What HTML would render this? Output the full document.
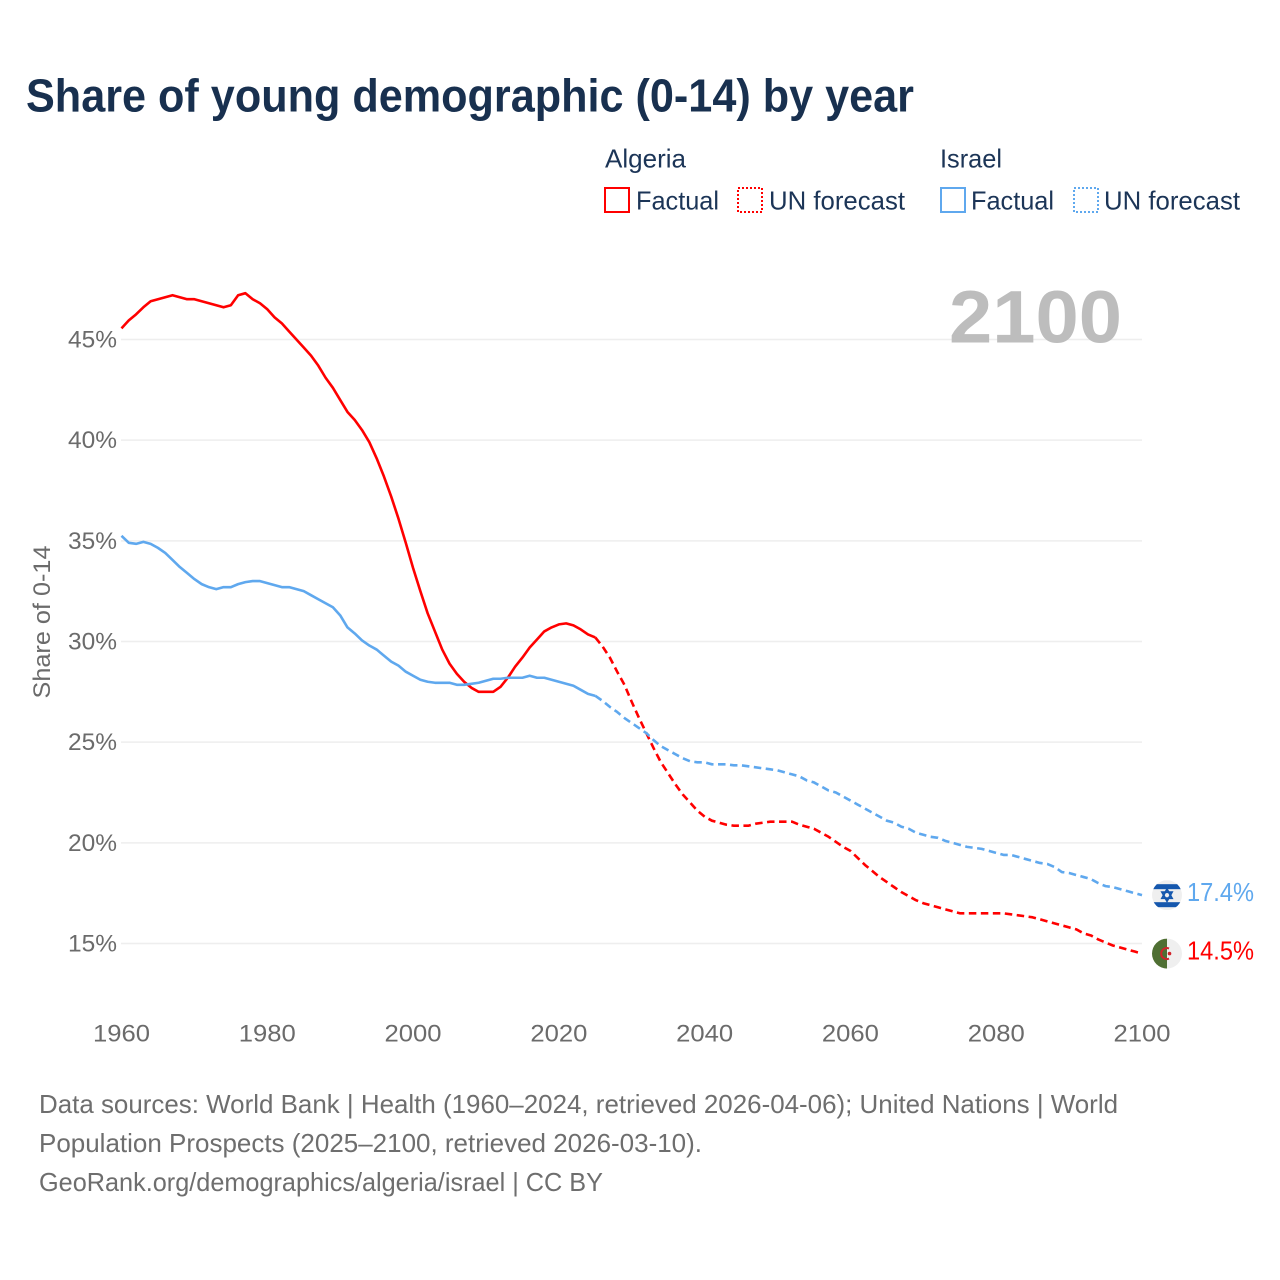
<!DOCTYPE html>
<html lang="en">
<head>
<meta charset="utf-8">
<title>Share of young demographic (0-14) by year</title>
<style>
  html, body { margin: 0; padding: 0; background: #fff; }
  svg { display: block; }
  text { font-family: "Liberation Sans", sans-serif; }
</style>
</head>
<body>
<svg id="chart" xmlns="http://www.w3.org/2000/svg" width="1280" height="1280" viewBox="0 0 1280 1280">
  <rect width="1280" height="1280" fill="#ffffff"/>
  <text x="26" y="111.5" font-size="46" font-weight="700" fill="#18304f" textLength="888" lengthAdjust="spacingAndGlyphs">Share of young demographic (0-14) by year</text>

  <g>
    <text x="605" y="167.5" font-size="26" fill="#1c3557" textLength="81" lengthAdjust="spacingAndGlyphs">Algeria</text>
    <rect x="605" y="188" width="24" height="24" fill="none" stroke="#ff0000" stroke-width="2"/>
    <text x="636" y="209.5" font-size="26" fill="#1c3557" textLength="83" lengthAdjust="spacingAndGlyphs">Factual</text>
    <rect x="738" y="188" width="24" height="24" fill="none" stroke="#ff0000" stroke-width="2" stroke-dasharray="2 2"/>
    <text x="769" y="209.5" font-size="26" fill="#1c3557" textLength="136" lengthAdjust="spacingAndGlyphs">UN forecast</text>

    <text x="940" y="167.5" font-size="26" fill="#1c3557" textLength="62" lengthAdjust="spacingAndGlyphs">Israel</text>
    <rect x="941" y="188" width="24" height="24" fill="none" stroke="#5fa8ee" stroke-width="2"/>
    <text x="971" y="209.5" font-size="26" fill="#1c3557" textLength="83" lengthAdjust="spacingAndGlyphs">Factual</text>
    <rect x="1074" y="188" width="24" height="24" fill="none" stroke="#5fa8ee" stroke-width="2" stroke-dasharray="2 2"/>
    <text x="1104" y="209.5" font-size="26" fill="#1c3557" textLength="136" lengthAdjust="spacingAndGlyphs">UN forecast</text>
  </g>

  <text transform="translate(50,622) rotate(-90)" text-anchor="middle" font-size="24" fill="#6b6b6b" textLength="153" lengthAdjust="spacingAndGlyphs">Share of 0-14</text>

  <g id="grid"></g>
  <g id="yticks"></g>
  <g id="xticks"></g>

  <text x="949" y="342.5" font-size="74" font-weight="700" fill="#bdbdbd" textLength="173" lengthAdjust="spacingAndGlyphs">2100</text>

  <g id="series"></g>
  <g id="endmarks"></g>

  <g font-size="26" fill="#6e6e6e">
    <text x="39" y="1113" textLength="1079" lengthAdjust="spacingAndGlyphs">Data sources: World Bank | Health (1960–2024, retrieved 2026-04-06); United Nations | World</text>
    <text x="39" y="1152" textLength="663" lengthAdjust="spacingAndGlyphs">Population Prospects (2025–2100, retrieved 2026-03-10).</text>
    <text x="39" y="1191" textLength="564" lengthAdjust="spacingAndGlyphs">GeoRank.org/demographics/algeria/israel | CC BY</text>
  </g>
</svg>

<script>
const xTicks = [1960, 1980, 2000, 2020, 2040, 2060, 2080, 2100];
const yTicks = [15, 20, 25, 30, 35, 40, 45];

const factualStart = 1960;
const forecastStart = 2025;

const algeriaFactual = [
  45.55, 45.95, 46.25, 46.6, 46.9, 47.0, 47.1, 47.2, 47.1, 47.0,
  47.0, 46.9, 46.8, 46.7, 46.6, 46.7, 47.2, 47.3, 47.0, 46.8,
  46.5, 46.1, 45.8, 45.4, 45.0, 44.6, 44.2, 43.7, 43.1, 42.6,
  42.0, 41.4, 41.0, 40.5, 39.9, 39.1, 38.2, 37.2, 36.1, 34.9,
  33.65, 32.5, 31.4, 30.5, 29.6, 28.9, 28.4, 28.0, 27.7, 27.5,
  27.5, 27.5, 27.75, 28.2, 28.75, 29.2, 29.7, 30.1, 30.5, 30.7,
  30.85, 30.9, 30.8, 30.6, 30.35, 30.2
];

const algeriaForecast = [
  30.2, 29.75, 29.2, 28.5, 27.85, 27.0, 26.2, 25.45, 24.7, 24.0,
  23.45, 22.9, 22.4, 22.0, 21.6, 21.3, 21.1, 21.0, 20.9, 20.85,
  20.85, 20.85, 20.95, 21.0, 21.05, 21.05, 21.05, 21.05, 20.9, 20.8,
  20.7, 20.5, 20.3, 20.05, 19.8, 19.6, 19.25, 18.9, 18.6, 18.3,
  18.05, 17.8, 17.55, 17.35, 17.15, 17.0, 16.9, 16.8, 16.7, 16.6,
  16.5, 16.5, 16.5, 16.5, 16.5, 16.5, 16.5, 16.45, 16.4, 16.35,
  16.3, 16.2, 16.1, 16.0, 15.9, 15.8, 15.7, 15.5, 15.4, 15.2,
  15.05, 14.9, 14.8, 14.7, 14.6, 14.5
];

const israelFactual = [
  35.25, 34.9, 34.85, 34.95, 34.85, 34.65, 34.4, 34.05, 33.7, 33.4,
  33.1, 32.85, 32.7, 32.6, 32.7, 32.7, 32.85, 32.95, 33.0, 33.0,
  32.9, 32.8, 32.7, 32.7, 32.6, 32.5, 32.3, 32.1, 31.9, 31.7,
  31.3, 30.7, 30.4, 30.05, 29.8, 29.6, 29.3, 29.0, 28.8, 28.5,
  28.3, 28.1, 28.0, 27.95, 27.95, 27.95, 27.85, 27.85, 27.9, 27.95,
  28.05, 28.15, 28.15, 28.2, 28.2, 28.2, 28.3, 28.2, 28.2, 28.1,
  28.0, 27.9, 27.8, 27.6, 27.4, 27.3
];

const israelForecast = [
  27.3, 27.05, 26.75, 26.5, 26.2, 25.95, 25.7, 25.45, 25.1, 24.8,
  24.6, 24.4, 24.2, 24.05, 24.0, 24.0, 23.9, 23.9, 23.9, 23.85,
  23.85, 23.8, 23.75, 23.7, 23.65, 23.6, 23.5, 23.4, 23.3, 23.1,
  23.0, 22.8, 22.6, 22.5, 22.3, 22.1, 21.9, 21.7, 21.5, 21.3,
  21.1, 21.0, 20.8, 20.7, 20.5, 20.4, 20.3, 20.25, 20.1, 20.0,
  19.9, 19.8, 19.75, 19.7, 19.6, 19.5, 19.4, 19.4, 19.3, 19.2,
  19.1, 19.0, 18.95, 18.8, 18.55, 18.5, 18.4, 18.3, 18.2, 18.0,
  17.85, 17.8, 17.7, 17.6, 17.5, 17.4
];

const SVG_NS = 'http://www.w3.org/2000/svg';
const RED = '#ff0000';
const BLUE = '#5fa8ee';

function xScale(year) {
  return 121.5 + (year - 1960) * (1142 - 121.5) / 140;
}
function yScale(pct) {
  return 943.5 - (pct - 15) * (943.5 - 339.5) / 30;
}
function make(tag, attrs, parent) {
  const el = document.createElementNS(SVG_NS, tag);
  for (const k in attrs) el.setAttribute(k, attrs[k]);
  parent.appendChild(el);
  return el;
}
function pathFrom(values, startYear) {
  return values.map(function (v, i) {
    return (i ? 'L' : 'M') + xScale(startYear + i).toFixed(2) + ' ' + yScale(v).toFixed(2);
  }).join(' ');
}

const gridGroup = document.getElementById('grid');
const yTickGroup = document.getElementById('yticks');
const xTickGroup = document.getElementById('xticks');
const seriesGroup = document.getElementById('series');
const endGroup = document.getElementById('endmarks');

yTicks.forEach(function (t) {
  const line = make('line', { x1: 121, x2: 1142, y1: yScale(t), y2: yScale(t), stroke: '#eeeeee', 'stroke-width': 1.5 }, gridGroup);
  
  
  const label = make('text', { x: 68, y: yScale(t) + 8, 'font-size': 24, fill: '#6b6b6b', textLength: 49, lengthAdjust: 'spacingAndGlyphs' }, yTickGroup);
  label.textContent = t + '%';
  
  
});

xTicks.forEach(function (t) {
  const label = make('text', { x: xScale(t) - 28.5, y: 1041.5, 'font-size': 24, fill: '#6b6b6b', textLength: 57, lengthAdjust: 'spacingAndGlyphs' }, xTickGroup);
  label.textContent = String(t);
  
  
});

function drawLine(values, startYear, color, dashed, name) {
  const attrs = { d: pathFrom(values, startYear), fill: 'none', stroke: color, 'stroke-width': 2.6, 'stroke-linejoin': 'round' };
  if (dashed) attrs['stroke-dasharray'] = '7.5 4.5';
  const p = make('path', attrs, seriesGroup);
  
  
}
drawLine(algeriaFactual, factualStart, RED, false, 'line-algeria-factual');
drawLine(israelFactual, factualStart, BLUE, false, 'line-israel-factual');
drawLine(algeriaForecast, forecastStart, RED, true, 'line-algeria-forecast');
drawLine(israelForecast, forecastStart, BLUE, true, 'line-israel-forecast');

function drawEndLabel(values, color, name) {
  const last = values[values.length - 1];
  const t = make('text', { x: 1187, y: yScale(last) + 6, 'font-size': 26, fill: color, textLength: 67, lengthAdjust: 'spacingAndGlyphs' }, endGroup);
  t.textContent = last.toFixed(1) + '%';
  
  
}
drawEndLabel(israelForecast, BLUE, 'end-label-israel');
drawEndLabel(algeriaForecast, RED, 'end-label-algeria');

const defs = make('defs', {}, endGroup);
const flagCx = 1167;

const israelY = yScale(israelForecast[israelForecast.length - 1]);
const clipI = make('clipPath', { id: 'clip-israel' }, defs);
make('circle', { cx: flagCx, cy: israelY, r: 15 }, clipI);
const israelFlag = make('g', { 'clip-path': 'url(#clip-israel)' }, endGroup);


make('rect', { x: flagCx - 15, y: israelY - 15, width: 30, height: 30, fill: '#efefef' }, israelFlag);
make('rect', { x: flagCx - 15, y: israelY - 11, width: 30, height: 5, fill: '#1557ad' }, israelFlag);
make('rect', { x: flagCx - 15, y: israelY + 7, width: 30, height: 5, fill: '#1557ad' }, israelFlag);
make('polygon', { points: [flagCx, israelY - 6, flagCx + 5, israelY + 3, flagCx - 5, israelY + 3].join(' '), fill: 'none', stroke: '#1557ad', 'stroke-width': 1.8 }, israelFlag);
make('polygon', { points: [flagCx, israelY + 6, flagCx + 5, israelY - 3, flagCx - 5, israelY - 3].join(' '), fill: 'none', stroke: '#1557ad', 'stroke-width': 1.8 }, israelFlag);

const algeriaY = yScale(algeriaForecast[algeriaForecast.length - 1]);
const clipA = make('clipPath', { id: 'clip-algeria' }, defs);
make('circle', { cx: flagCx, cy: algeriaY, r: 15 }, clipA);
const algeriaFlag = make('g', { 'clip-path': 'url(#clip-algeria)' }, endGroup);


make('rect', { x: flagCx - 15, y: algeriaY - 15, width: 15, height: 30, fill: '#4f6f33' }, algeriaFlag);
make('rect', { x: flagCx, y: algeriaY - 15, width: 15, height: 30, fill: '#efefef' }, algeriaFlag);
make('path', { d: 'M' + (flagCx + 2) + ' ' + (algeriaY - 5) + ' A5.5 5.5 0 1 0 ' + (flagCx + 2) + ' ' + (algeriaY + 5), fill: 'none', stroke: '#d2232a', 'stroke-width': 2 }, algeriaFlag);
make('circle', { cx: flagCx + 2.5, cy: algeriaY, r: 1.8, fill: '#d2232a' }, algeriaFlag);
</script>
</body>
</html>
